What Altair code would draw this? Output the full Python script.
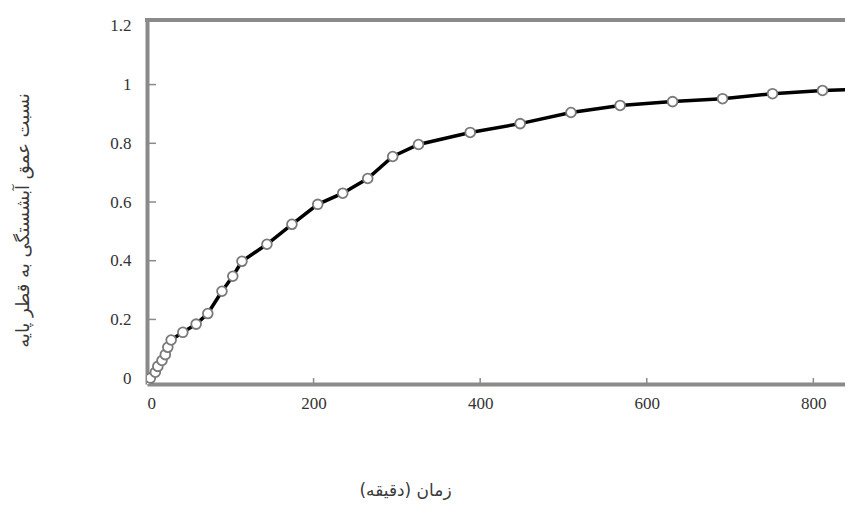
import altair as alt
import pandas as pd

# Data
time_min = [0, 4, 10, 13, 18, 22, 25, 29, 43, 59, 73, 90, 103, 114, 144, 174,
            205, 235, 265, 295, 326, 388, 448, 509, 568, 631, 691, 751, 811, 870]
ratio = [-0.015, 0.0, 0.02, 0.04, 0.06, 0.08, 0.105, 0.13, 0.156, 0.184, 0.22,
         0.296, 0.347, 0.398, 0.456, 0.524, 0.592, 0.63, 0.68, 0.755, 0.796,
         0.837, 0.867, 0.905, 0.929, 0.942, 0.952, 0.969, 0.98, 0.985]
x_ticks = [0, 200, 400, 600, 800]
y_ticks = [0, 0.2, 0.4, 0.6, 0.8, 1.0, 1.2]
x_title = "زمان (دقیقه)"
y_title = "نسبت عمق آبشستگی به قطر پایه"

W, H = 698, 364
AX = "#8a8a8a"

df = pd.DataFrame({"t": time_min, "r": ratio})
df_xt = pd.DataFrame({"t": [v for v in x_ticks if v > 0]})
df_yt = pd.DataFrame({"r": [v for v in y_ticks if 0 < v < 1.2]})

xs = alt.Scale(domain=[0, 838], nice=False, zero=False)
ys = alt.Scale(domain=[-0.02, 1.22], nice=False, zero=False)

x_axis = alt.Axis(values=x_ticks, format="d", title=x_title, grid=False,
                  tickSize=0, labelPadding=11, domainColor=AX, domainWidth=4,
                  labelFont="Liberation Serif", labelFontSize=17, labelColor="#333",
                  titleFont="DejaVu Sans", titleFontSize=17, titleFontWeight="normal",
                  titleColor="#3a3a3a", titleX=258, titleY=106, titleBaseline="middle")
y_axis = alt.Axis(values=y_ticks, format="~g", title=y_title, grid=False,
                  tickSize=0, labelPadding=16, domainColor=AX, domainWidth=4,
                  labelFont="Liberation Serif", labelFontSize=17, labelColor="#333",
                  titleFont="DejaVu Sans", titleFontSize=18, titleFontWeight="normal",
                  titleColor="#3a3a3a", titleX=-124, titleY=200, titleAngle=-90,
                  titleBaseline="middle", titleAlign="center")

line = alt.Chart(df).mark_line(color="black", strokeWidth=3.5, clip=True).encode(
    x=alt.X("t:Q", scale=xs, axis=x_axis),
    y=alt.Y("r:Q", scale=ys, axis=y_axis),
)
pts = alt.Chart(df).mark_point(shape="circle", filled=True, fill="white",
                               stroke="#7a7a7a", strokeWidth=1.8, size=95,
                               opacity=1, clip=True).encode(
    x=alt.X("t:Q", scale=xs),
    y=alt.Y("r:Q", scale=ys),
)
yt = alt.Chart(df_yt).mark_rule(color=AX, strokeWidth=1.5).encode(
    y=alt.Y("r:Q", scale=ys), x=alt.value(0), x2=alt.value(9))
xt = alt.Chart(df_xt).mark_rule(color=AX, strokeWidth=1.5).encode(
    x=alt.X("t:Q", scale=xs), y=alt.value(H), y2=alt.value(H - 6))
top = alt.Chart(df_xt).mark_rule(color=AX, strokeWidth=4).encode(
    x=alt.value(-2), x2=alt.value(W), y=alt.value(0))

chart = alt.layer(line, yt, xt, top, pts).properties(
    width=W, height=H,
    autosize="none",
    padding={"left": 139, "top": 12, "right": 0, "bottom": 125},
    background="white",
).configure_view(stroke=None)

chart.save("out.html", embed_options={"renderer": "svg", "actions": False})
